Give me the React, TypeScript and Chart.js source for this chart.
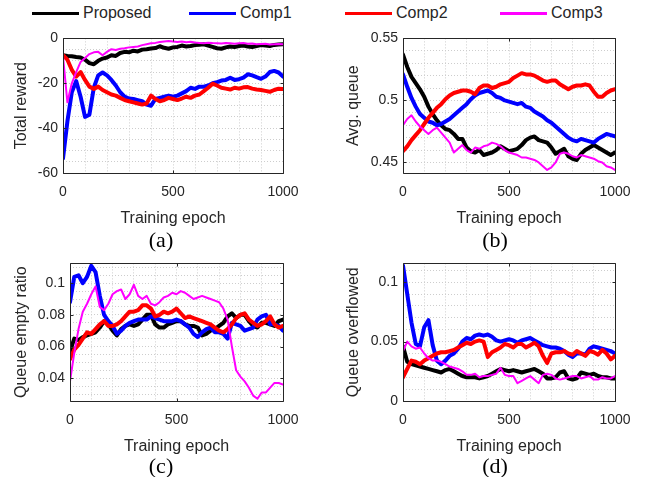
import React, { useEffect, useRef } from 'react';
import { Chart, registerables } from 'chart.js';

Chart.register(...registerables);

// ---------------- data ----------------
const EPOCHS = [
  0, 20, 40, 60, 80, 100, 120, 140, 160, 180,
  200, 220, 240, 260, 280, 300, 320, 340, 360, 380,
  400, 420, 440, 460, 480, 500, 520, 540, 560, 580,
  600, 620, 640, 660, 680, 700, 720, 740, 760, 780,
  800, 820, 840, 860, 880, 900, 920, 940, 960, 980,
  1000,
];

const SERIES_NAMES = ['Proposed', 'Comp1', 'Comp2', 'Comp3'];
const SERIES_COLORS = ['#000000', '#0000ff', '#ff0000', '#ff00ff'];
const SERIES_WIDTHS = [4, 4, 4, 2];

// (a) Total reward
const A_PROPOSED = [
  -7.5, -7.8, -8.0, -8.3, -8.5, -9.5, -11.0, -11.5, -10.0, -9.0,
  -8.5, -7.5, -7.8, -6.5, -6.0, -6.2, -5.5, -5.8, -5.0, -4.8,
  -4.5, -4.3, -3.5, -4.2, -4.6, -4.0, -3.8, -3.2, -3.6, -3.4,
  -3.0, -2.8, -2.6, -3.2, -3.8, -4.4, -4.6, -4.0, -3.6, -3.8,
  -3.4, -3.2, -3.6, -3.8, -3.4, -3.0, -3.2, -3.4, -2.9, -2.7,
  -2.6,
];
const A_COMP1 = [
  -53.5, -37, -24, -19, -26, -35, -34, -22, -16.5, -15.2,
  -16.5, -18.5, -21, -24, -26, -26.8, -27, -27.5, -28, -29.5,
  -30, -27, -26.5, -26, -25.5, -26, -25.5, -24.5, -23.5, -22,
  -22.5, -21.5, -21.5, -21, -20, -19.5, -18.8, -18.5, -17.5, -18.5,
  -18.2, -17.5, -16, -16.5, -17.3, -18, -17, -15, -14.5, -15.2,
  -17,
];
const A_COMP2 = [
  -7.5, -9.5, -14, -17, -15, -18.5, -21.5, -22.5, -21.5, -23,
  -24, -25, -25.5, -26.5, -27.5, -28, -28.5, -29, -29.5, -29,
  -25.5, -27, -28, -27.5, -26.5, -27, -27.5, -26.8, -26, -26.5,
  -25.5, -25, -23.5, -22, -20.2, -21, -22, -22.4, -22.8, -22,
  -22.4, -21.8, -21.7, -22.4, -22.8, -23, -23.4, -23.8, -23, -22.4,
  -22.6,
];
const A_COMP3 = [
  -8, -28.5, -20, -15, -10.5, -8.7, -7, -6.2, -6, -7.5,
  -6, -4.8, -5.2, -4.6, -4.4, -4.0, -3.8, -3.6, -3.0, -2.6,
  -2.2, -2.0, -1.6, -1.4, -1.2, -1.4, -1.6, -1.4, -1.7, -1.5,
  -1.8, -2.0, -2.2, -1.9, -2.1, -2.2, -2.3, -2.0, -2.2, -2.4,
  -2.2, -2.1, -2.4, -2.3, -2.6, -2.5, -2.4, -2.7, -2.6, -2.5,
  -2.6,
];

// (b) Avg. queue
const B_PROPOSED = [
  0.537, 0.527, 0.519, 0.514, 0.509, 0.503, 0.495, 0.489, 0.484, 0.480,
  0.477, 0.476, 0.473, 0.469, 0.469, 0.462, 0.459, 0.458, 0.460, 0.456,
  0.457, 0.458, 0.460, 0.463, 0.461, 0.459, 0.460, 0.461, 0.464, 0.468,
  0.470, 0.471, 0.468, 0.467, 0.466, 0.462, 0.457, 0.459, 0.461, 0.455,
  0.453, 0.452, 0.457, 0.460, 0.462, 0.464, 0.462, 0.460, 0.458, 0.456,
  0.458,
];
const B_COMP1 = [
  0.521, 0.511, 0.502, 0.495, 0.489, 0.486, 0.483, 0.482, 0.480, 0.481,
  0.483, 0.485, 0.488, 0.491, 0.494, 0.497, 0.501, 0.504, 0.506, 0.507,
  0.508, 0.506, 0.503, 0.502, 0.500, 0.499, 0.498, 0.497, 0.498, 0.495,
  0.494, 0.491, 0.489, 0.487, 0.484, 0.482, 0.479, 0.476, 0.473, 0.470,
  0.468, 0.467, 0.469, 0.468, 0.467, 0.466, 0.469, 0.471, 0.473, 0.472,
  0.471,
];
const B_COMP2 = [
  0.459, 0.463, 0.468, 0.472, 0.476, 0.481, 0.486, 0.490, 0.494, 0.497,
  0.501, 0.504, 0.506, 0.507, 0.508, 0.508, 0.507, 0.505, 0.510, 0.512,
  0.512, 0.510, 0.511, 0.513, 0.514, 0.515, 0.518, 0.520, 0.522, 0.521,
  0.521, 0.520, 0.518, 0.516, 0.515, 0.516, 0.516, 0.513, 0.511, 0.509,
  0.511, 0.512, 0.512, 0.513, 0.512, 0.507, 0.503, 0.503, 0.506, 0.508,
  0.509,
];
const B_COMP3 = [
  0.480, 0.485, 0.488, 0.483, 0.479, 0.476, 0.473, 0.476, 0.478, 0.474,
  0.470, 0.466, 0.458, 0.461, 0.464, 0.460, 0.458, 0.462, 0.461, 0.463,
  0.464, 0.466, 0.465, 0.463, 0.460, 0.458, 0.457, 0.456, 0.454, 0.454,
  0.453, 0.452, 0.450, 0.447, 0.444, 0.446, 0.450, 0.457, 0.458, 0.457,
  0.455, 0.454, 0.456, 0.455, 0.454, 0.453, 0.451, 0.450, 0.447, 0.446,
  0.444,
];

// (c) Queue empty ratio
const C_PROPOSED = [
  0.057, 0.065, 0.064, 0.066, 0.067, 0.068, 0.069, 0.072, 0.076, 0.074,
  0.070, 0.067, 0.071, 0.073, 0.074, 0.073, 0.074, 0.077, 0.080, 0.080,
  0.074, 0.072, 0.072, 0.074, 0.075, 0.076, 0.076, 0.074, 0.073, 0.073,
  0.072, 0.067, 0.068, 0.070, 0.071, 0.073, 0.075, 0.079, 0.081, 0.078,
  0.080, 0.080, 0.076, 0.073, 0.072, 0.075, 0.075, 0.074, 0.073, 0.076,
  0.077,
];
const C_COMP1 = [
  0.088, 0.104, 0.105, 0.100, 0.104, 0.111, 0.107, 0.092, 0.080, 0.076,
  0.073, 0.068, 0.070, 0.073, 0.075, 0.076, 0.077, 0.077, 0.077, 0.079,
  0.078, 0.077, 0.076, 0.076, 0.076, 0.077, 0.076, 0.074, 0.072, 0.068,
  0.066, 0.069, 0.071, 0.072, 0.069, 0.069, 0.068, 0.065, 0.075, 0.074,
  0.073, 0.070, 0.071, 0.072, 0.077, 0.079, 0.080, 0.074, 0.074, 0.073,
  0.070,
];
const C_COMP2 = [
  0.052, 0.058, 0.061, 0.065, 0.069, 0.068, 0.071, 0.074, 0.076, 0.073,
  0.073, 0.074, 0.076, 0.079, 0.082, 0.082, 0.083, 0.086, 0.086, 0.084,
  0.079, 0.080, 0.082, 0.081, 0.082, 0.084, 0.081, 0.078, 0.079, 0.078,
  0.077, 0.076, 0.075, 0.074, 0.072, 0.070, 0.069, 0.071, 0.074, 0.078,
  0.080, 0.081, 0.077, 0.075, 0.073, 0.074, 0.076, 0.079, 0.074, 0.072,
  0.073,
];
const C_COMP3 = [
  0.038, 0.056, 0.071, 0.082, 0.087, 0.093, 0.098, 0.085, 0.083, 0.087,
  0.093, 0.095, 0.096, 0.090, 0.093, 0.099, 0.092, 0.090, 0.092, 0.087,
  0.086, 0.088, 0.091, 0.092, 0.094, 0.093, 0.095, 0.094, 0.092, 0.090,
  0.091, 0.092, 0.091, 0.090, 0.089, 0.088, 0.084, 0.077, 0.060, 0.045,
  0.041, 0.038, 0.034, 0.029, 0.027, 0.031, 0.031, 0.034, 0.037, 0.037,
  0.036,
];

// (d) Queue overflowed
const D_PROPOSED = [
  0.046, 0.033, 0.031, 0.030, 0.029, 0.028, 0.027, 0.026, 0.025, 0.024,
  0.026, 0.027, 0.025, 0.023, 0.021, 0.020, 0.020, 0.020, 0.019, 0.020,
  0.021, 0.023, 0.025, 0.027, 0.026, 0.025, 0.026, 0.025, 0.024, 0.025,
  0.026, 0.027, 0.025, 0.023, 0.019, 0.019, 0.020, 0.024, 0.025, 0.019,
  0.018, 0.019, 0.024, 0.023, 0.022, 0.023, 0.021, 0.020, 0.020, 0.019,
  0.019,
];
const D_COMP1 = [
  0.114, 0.090, 0.066, 0.048, 0.046, 0.062, 0.068, 0.047, 0.034, 0.031,
  0.034, 0.038, 0.040, 0.044, 0.050, 0.053, 0.052, 0.055, 0.056, 0.055,
  0.056, 0.054, 0.051, 0.050, 0.051, 0.052, 0.051, 0.049, 0.051, 0.052,
  0.053, 0.051, 0.049, 0.047, 0.046, 0.045, 0.045, 0.044, 0.042, 0.039,
  0.037, 0.040, 0.040, 0.039, 0.044, 0.046, 0.045, 0.044, 0.043, 0.042,
  0.040,
];
const D_COMP2 = [
  0.020, 0.027, 0.034, 0.033, 0.031, 0.034, 0.036, 0.038, 0.040, 0.041,
  0.041, 0.042, 0.043, 0.045, 0.047, 0.049, 0.048, 0.050, 0.051, 0.050,
  0.037, 0.041, 0.043, 0.045, 0.048, 0.047, 0.045, 0.048, 0.048, 0.045,
  0.047, 0.049, 0.046, 0.038, 0.032, 0.040, 0.041, 0.041, 0.042, 0.040,
  0.039, 0.042, 0.040, 0.038, 0.042, 0.041, 0.039, 0.043, 0.040, 0.035,
  0.038,
];
const D_COMP3 = [
  0.042, 0.050, 0.046, 0.044, 0.045, 0.040, 0.036, 0.034, 0.034, 0.033,
  0.031, 0.029, 0.028, 0.027, 0.025, 0.022, 0.022, 0.023, 0.020, 0.021,
  0.021, 0.022, 0.023, 0.028, 0.022, 0.021, 0.021, 0.015, 0.017, 0.019,
  0.021, 0.018, 0.015, 0.022, 0.023, 0.022, 0.019, 0.018, 0.019, 0.020,
  0.021, 0.021, 0.019, 0.020, 0.021, 0.018, 0.018, 0.020, 0.019, 0.019,
  0.021,
];

// tick labels
const X_TICK_LABELS = [0, 500, 1000];
const A_Y_TICK_LABELS = [-60, -40, -20, 0];
const B_Y_TICK_LABELS = [0.45, 0.5, 0.55];
const C_Y_TICK_LABELS = [0.04, 0.06, 0.08, 0.1];
const D_Y_TICK_LABELS = [0, 0.05, 0.1];

// ---------------- styling / layout ----------------
const SANS = '"Liberation Sans", Arial, Helvetica, sans-serif';
const SERIF = '"Liberation Serif", "Times New Roman", serif';
const TEXT = '#262626';
const GRID = '#cdcdcd';

type Panel = {
  series: number[][];
  yTitle: string;
  yMin: number;
  yMax: number;
  yMinor: number;
  yLabels: number[];
  left: number;
  top: number;
  width: number;
  height: number;
  plotLeft: number;
  plotTop: number;
  plotRight: number;
  plotBottom: number;
  yTitleCenter: number;
  caption: string;
  captionX: number;
  captionY: number;
};

const PANELS: Panel[] = [
  {
    series: [A_PROPOSED, A_COMP1, A_COMP2, A_COMP3], yTitle: 'Total reward',
    yMin: -60, yMax: 0, yMinor: 5, yLabels: A_Y_TICK_LABELS,
    left: 0, top: 25, width: 320, height: 203,
    plotLeft: 63, plotTop: 35, plotRight: 283, plotBottom: 173,
    yTitleCenter: 22, caption: '(a)', captionX: 161, captionY: 240,
  },
  {
    series: [B_PROPOSED, B_COMP1, B_COMP2, B_COMP3], yTitle: 'Avg. queue',
    yMin: 0.4415, yMax: 0.55, yMinor: 0.01, yLabels: B_Y_TICK_LABELS,
    left: 330, top: 25, width: 319, height: 203,
    plotLeft: 403, plotTop: 35, plotRight: 615, plotBottom: 173,
    yTitleCenter: 354, caption: '(b)', captionX: 495, captionY: 240,
  },
  {
    series: [C_PROPOSED, C_COMP1, C_COMP2, C_COMP3], yTitle: 'Queue empty ratio',
    yMin: 0.0256, yMax: 0.1125, yMinor: 0.005, yLabels: C_Y_TICK_LABELS,
    left: 0, top: 250, width: 320, height: 206,
    plotLeft: 70, plotTop: 262, plotRight: 283, plotBottom: 401,
    yTitleCenter: 22, caption: '(c)', captionX: 161, captionY: 466,
  },
  {
    series: [D_PROPOSED, D_COMP1, D_COMP2, D_COMP3], yTitle: 'Queue overflowed',
    yMin: 0, yMax: 0.1158, yMinor: 0.01, yLabels: D_Y_TICK_LABELS,
    left: 330, top: 250, width: 319, height: 206,
    plotLeft: 403, plotTop: 262, plotRight: 615, plotBottom: 401,
    yTitleCenter: 354, caption: '(d)', captionX: 495, captionY: 466,
  },
];

const LEGEND_X = [32, 189, 345, 500];
const LEGEND_Y = 13;

function gridSteps(min: number, max: number, step: number): number[] {
  const out: number[] = [];
  const start = Math.ceil(min / step - 1e-9);
  const end = Math.floor(max / step + 1e-9);
  for (let k = start; k <= end; k++) out.push(+(k * step).toFixed(6));
  return out;
}

function isLabel(v: number, labels: number[]) {
  return labels.some((l) => Math.abs(l - v) < 1e-7);
}

function fmt(v: number) {
  return String(+v.toFixed(4));
}

const boxPlugin = {
  id: 'matlabBox',
  afterDraw(chart: any, _args: any, opts: any) {
    const { ctx, chartArea } = chart;
    const al = (p: number) => Math.round(p) + 0.5;
    const l = al(chartArea.left);
    const r = al(chartArea.right);
    const t = al(chartArea.top);
    const b = al(chartArea.bottom);
    ctx.save();
    ctx.strokeStyle = TEXT;
    ctx.lineWidth = 1;
    ctx.setLineDash([]);
    ctx.beginPath();
    ctx.rect(l, t, r - l, b - t);
    ctx.stroke();
    const tl = 3;
    ctx.beginPath();
    (opts.xMajor || []).forEach((v: number) => {
      const x = al(chart.scales.x.getPixelForValue(v));
      ctx.moveTo(x, b); ctx.lineTo(x, b - tl);
      ctx.moveTo(x, t); ctx.lineTo(x, t + tl);
    });
    (opts.yMajor || []).forEach((v: number) => {
      const y = al(chart.scales.y.getPixelForValue(v));
      ctx.moveTo(l, y); ctx.lineTo(l + tl, y);
      ctx.moveTo(r, y); ctx.lineTo(r - tl, y);
    });
    ctx.stroke();
    ctx.restore();
  },
};

function PanelChart({ p }: { p: Panel }) {
  const ref = useRef<HTMLCanvasElement>(null);
  useEffect(() => {
    if (!ref.current) return;
    const xGrid = gridSteps(0, 1000, 100);
    const yGrid = gridSteps(p.yMin, p.yMax, p.yMinor);
    const yAxisWidth = p.plotLeft - p.left;
    const xAxisHeight = p.top + p.height - p.plotBottom;
    const datasets = p.series.map((vals, i) => ({
      label: SERIES_NAMES[i],
      data: EPOCHS.map((e, k) => ({ x: e, y: vals[k] })),
      borderColor: SERIES_COLORS[i],
      backgroundColor: SERIES_COLORS[i],
      borderWidth: SERIES_WIDTHS[i],
      pointRadius: 0,
      tension: 0,
      fill: false,
      borderJoinStyle: 'round' as const,
      borderCapStyle: 'round' as const,
      order: 4 - i,
    }));
    const chart = new Chart(ref.current, {
      type: 'line',
      data: { datasets },
      options: {
        animation: false,
        responsive: false,
        maintainAspectRatio: false,
        devicePixelRatio: 1,
        events: [],
        layout: {
          padding: {
            left: 0,
            top: p.plotTop - p.top,
            right: p.left + p.width - p.plotRight,
            bottom: 0,
          },
        },
        plugins: {
          legend: { display: false },
          tooltip: { enabled: false },
          // @ts-ignore
          matlabBox: { xMajor: X_TICK_LABELS, yMajor: p.yLabels },
        },
        scales: {
          x: {
            type: 'linear',
            min: 0,
            max: 1000,
            afterFit: (s: any) => { s.height = xAxisHeight; },
            afterBuildTicks: (s: any) => { s.ticks = xGrid.map((v) => ({ value: v })); },
            ticks: {
              autoSkip: false,
              maxRotation: 0,
              padding: 11,
              color: TEXT,
              font: { size: 14, family: SANS },
              callback: (v: any) => (isLabel(Number(v), X_TICK_LABELS) ? fmt(Number(v)) : ''),
            },
            grid: { color: GRID, lineWidth: 1, drawTicks: false },
            border: { display: false, dash: [1, 2] },
            title: {
              display: true,
              text: 'Training epoch',
              color: TEXT,
              font: { size: 16, family: SANS },
              padding: { top: 0, bottom: 0 },
            },
          },
          y: {
            type: 'linear',
            min: p.yMin,
            max: p.yMax,
            afterFit: (s: any) => { s.width = yAxisWidth; },
            afterBuildTicks: (s: any) => { s.ticks = yGrid.map((v) => ({ value: v })); },
            ticks: {
              autoSkip: false,
              padding: 5,
              color: TEXT,
              font: { size: 14, family: SANS },
              callback: (v: any) => (isLabel(Number(v), p.yLabels) ? fmt(Number(v)) : ''),
            },
            grid: { color: GRID, lineWidth: 1, drawTicks: false },
            border: { display: false, dash: [1, 2] },
            title: {
              display: true,
              text: p.yTitle,
              color: TEXT,
              font: { size: 16, family: SANS },
              padding: { top: p.yTitleCenter - p.left - 9.6, bottom: 0 },
            },
          },
        },
      } as any,
      plugins: [boxPlugin],
    });
    return () => chart.destroy();
  }, [p]);
  return (
    <canvas
      ref={ref}
      width={p.width}
      height={p.height}
      style={{ position: 'absolute', left: p.left, top: p.top, width: p.width, height: p.height }}
    />
  );
}

export default function App() {
  return (
    <div
      style={{
        position: 'fixed', left: 0, top: 0, width: 649, height: 477,
        background: '#ffffff', overflow: 'hidden',
      }}
    >
      {SERIES_NAMES.map((name, i) => (
        <React.Fragment key={name}>
          <div
            style={{
              position: 'absolute', left: LEGEND_X[i], top: LEGEND_Y - 1.5,
              width: 47, height: 3, background: SERIES_COLORS[i],
            }}
          />
          <div
            style={{
              position: 'absolute', left: LEGEND_X[i] + 51, top: LEGEND_Y,
              transform: 'translateY(-50%)', fontFamily: SANS, fontSize: 16,
              lineHeight: 1, color: TEXT, whiteSpace: 'nowrap',
            }}
          >
            {name}
          </div>
        </React.Fragment>
      ))}
      {PANELS.map((p) => (
        <PanelChart key={p.caption} p={p} />
      ))}
      {PANELS.map((p) => (
        <div
          key={'cap' + p.caption}
          style={{
            position: 'absolute', left: p.captionX, top: p.captionY,
            transform: 'translate(-50%, -50%)', fontFamily: SERIF, fontSize: 22,
            lineHeight: 1, color: '#000', whiteSpace: 'nowrap',
          }}
        >
          {p.caption}
        </div>
      ))}
    </div>
  );
}
